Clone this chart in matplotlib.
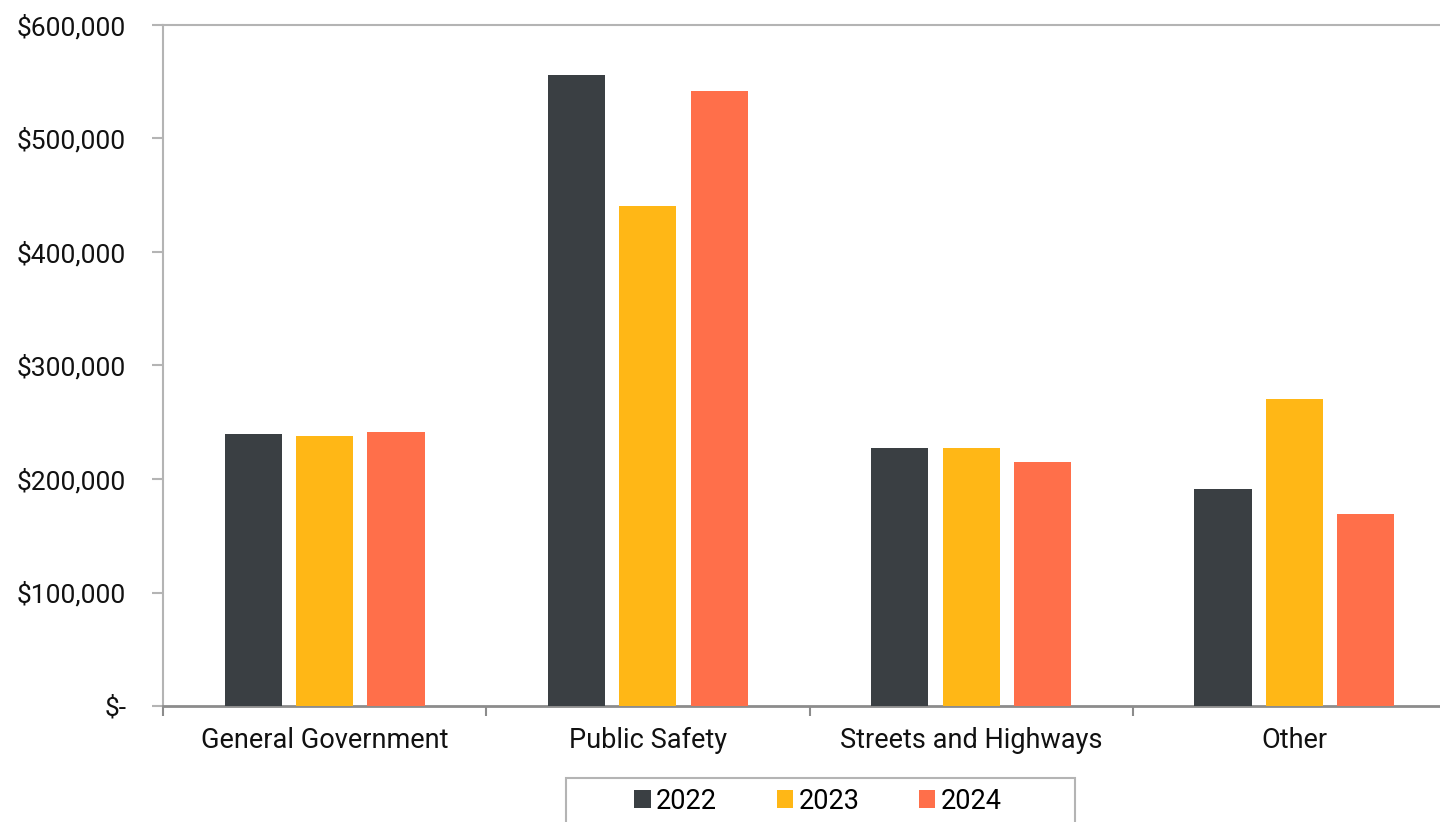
import matplotlib
matplotlib.use("Agg")
import matplotlib.pyplot as plt
from matplotlib.patches import Rectangle
from matplotlib.ticker import FuncFormatter
import numpy as np

categories = ["General Government", "Public Safety", "Streets and Highways", "Other"]
years = ["2022", "2023", "2024"]
values_2022 = [239700, 556000, 227300, 191200]
values_2023 = [237900, 440500, 227300, 270200]
values_2024 = [241400, 541900, 215000, 168900]
y_ticks = [0, 100000, 200000, 300000, 400000, 500000, 600000]

COLORS = ["#3a3f43", "#ffb716", "#ff6f4a"]
LIGHT_GRAY = "#b4b4b4"
DARK_GRAY = "#8c8c8c"
INK = "#111111"

plt.rcParams["font.family"] = ["Roboto", "DejaVu Sans"]
plt.rcParams["font.size"] = 19.5


def dollars(v, _pos):
    if v == 0:
        return "$-"
    return f"${v:,.0f}"


fig = plt.figure(figsize=(14.4, 8.22), dpi=100)
W, H = 1440, 822
# plot area runs past the right edge of the canvas
ax = fig.add_axes([163 / W, (H - 706) / H, (1456 - 163) / W, 681 / H])

x = np.arange(len(categories))
width = 0.177
step = 0.221
series = [values_2022, values_2023, values_2024]
handles = []
for i, (vals, c) in enumerate(zip(series, COLORS)):
    h = ax.bar(x + (i - 1) * step, vals, width=width, color=c, zorder=3)
    handles.append(h)

ax.set_xlim(-0.5, len(categories) - 0.5)
ax.set_ylim(0, 600000)
ax.set_yticks(y_ticks)
ax.yaxis.set_major_formatter(FuncFormatter(dollars))

# boundary ticks between categories, labels at centers
ax.set_xticks(np.arange(-0.5, len(categories), 1.0))
ax.set_xticklabels([])
ax.set_xticks(x, minor=True)
ax.set_xticklabels(categories, minor=True)
ax.tick_params(axis="x", which="major", length=7, width=1.5, color=DARK_GRAY, direction="out")
ax.tick_params(axis="x", which="minor", length=0, pad=15, labelcolor=INK)
ax.tick_params(axis="y", length=8, width=1.5, color=LIGHT_GRAY, pad=18.5, labelcolor=INK,
               labelsize=19)

for side in ["left", "top"]:
    ax.spines[side].set_color(LIGHT_GRAY)
    ax.spines[side].set_linewidth(1.5)
ax.spines["bottom"].set_color(DARK_GRAY)
ax.spines["bottom"].set_linewidth(2)
ax.spines["right"].set_visible(False)

# legend with a separately drawn box
leg = fig.legend(handles, years, loc="center", bbox_to_anchor=(818 / W, 1 - 801 / H),
                 ncol=3, frameon=False, handlelength=0.6, handleheight=0.6,
                 handletextpad=0.2, columnspacing=2.2, fontsize=19.5)
fig.add_artist(Rectangle((566 / W, -0.05), (1075 - 566) / W, 0.05 + (822 - 778) / H,
                         transform=fig.transFigure, fill=False,
                         edgecolor=LIGHT_GRAY, linewidth=1.5))

fig.savefig("out.png", dpi=100, facecolor="white")
